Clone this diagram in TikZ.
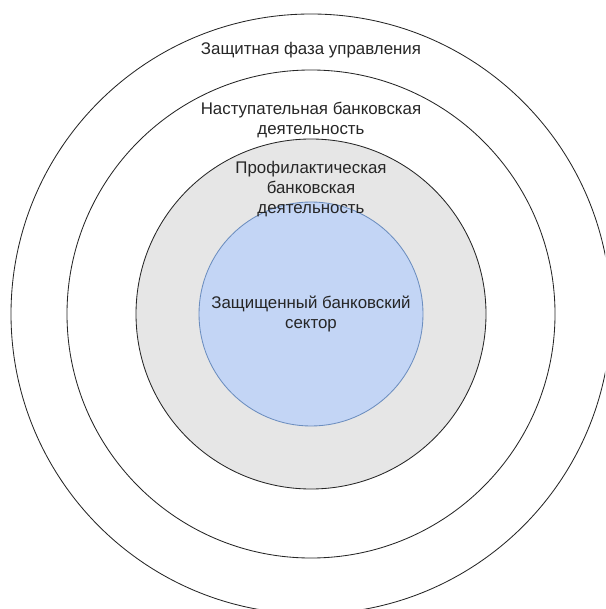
\documentclass[tikz,border=0pt]{standalone}
\usepackage{fontspec}
\setmainfont{Liberation Sans}
\definecolor{ringgray}{HTML}{E6E6E6}
\definecolor{corefill}{HTML}{C3D5F5}
\definecolor{coreline}{HTML}{6C8EBF}
\tikzset{
	ring/.style={draw=black!85, line width=0.6pt},
	label/.style={align=center, font=\fontsize{12}{14}\selectfont, text=black!85}
}
\begin{document}
\begin{tikzpicture}[x=0.025cm, y=-0.025cm]
	\useasboundingbox (0,0) rectangle (605,609);
	\clip (0,0) rectangle (605,609);
	\draw[ring] (311,314) circle(300);
	\draw[ring] (311,314) circle(244);
	\filldraw[ring, fill=ringgray] (311,314) circle(175);
	\filldraw[ring, draw=coreline, fill=corefill] (311,314) circle(112);
	\node[label] (phase) at (311,50) {Защитная фаза управления};
	\node[label] (offence) at (311,120) {Наступательная банковская\\деятельность};
	\node[label] (prevent) at (311,189) {Профилактическая\\банковская\\деятельность};
	\node[label] (core) at (311,314) {Защищенный банковский\\сектор};
	\end{tikzpicture}
\end{document}
